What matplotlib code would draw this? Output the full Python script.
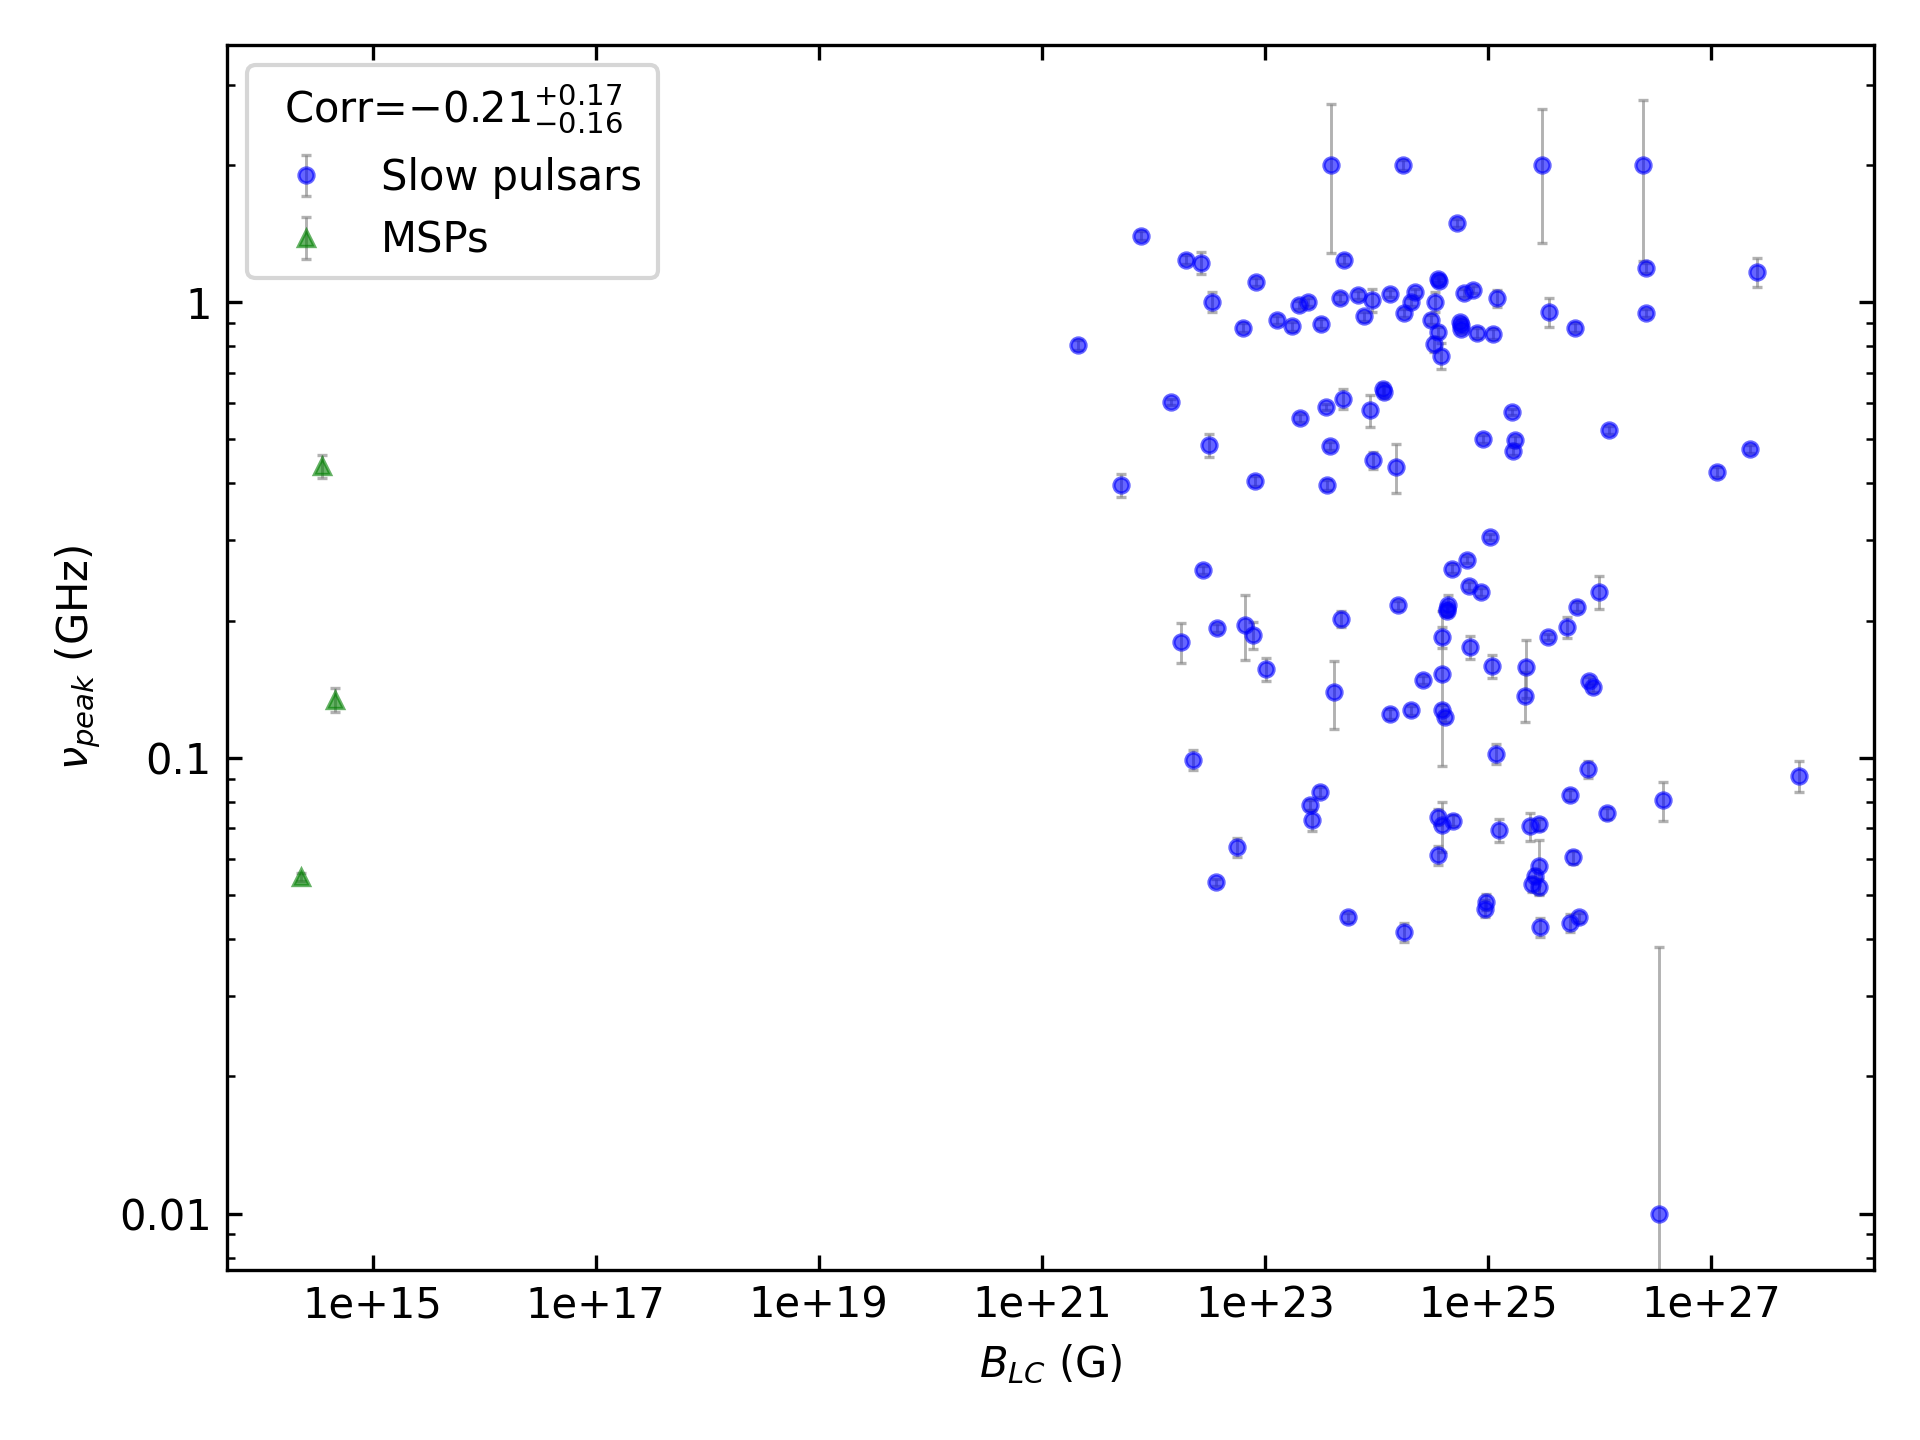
import numpy as np
import matplotlib
matplotlib.use("Agg")
import matplotlib.pyplot as plt
from matplotlib import ticker

# slow pulsars: B_LC (G), peak frequency (GHz), error (GHz)
slow_b = [3.9e23, 1.73e24, 3.05e25, 2.45e26, 5.3e24, 7.8e21, 1.97e22, 2.66e22, 5.15e23, 2.63e26,
          2.6e27, 8.27e22, 3.56e24, 3.65e24, 3.35e22, 2.04e23, 2.43e23, 4.67e23, 6.8e23, 9.15e23,
          1.32e24, 2.21e24, 2.02e24, 3.37e24, 6.15e24, 7.3e24, 1.2e25, 3.5e25, 2.63e26, 6.0e25,
          7.7e23, 1.78e24, 3.08e24, 1.27e23, 5.58e24, 6.3e22, 1.75e23, 3.2e23, 2.1e21, 3.56e24,
          5.67e24, 5.77e24, 7.9e24, 1.1e25, 3.27e24, 3.75e24, 1.45e22, 1.14e24, 1.16e24, 4.96e23,
          3.5e23, 8.66e23, 2.07e23, 1.64e25, 3.15e22, 3.8e23, 8.95e24, 1.76e25, 1.66e25, 1.22e26,
          9.34e23, 1.5e24, 2.23e27, 1.12e27, 5.1e21, 8.08e22, 3.6e23, 2.76e22, 1.05e25, 6.45e24,
          4.71e24, 6.73e24, 8.66e24, 9.8e25, 6.27e25, 1.56e24, 4.42e24, 4.33e24, 4.33e24, 3.85e24,
          3.85e24, 1.75e22, 3.74e22, 6.6e22, 7.78e22, 1.02e23, 4.77e23, 4.18e23, 2.6e24, 6.83e24,
          1.08e25, 2.19e25, 2.15e25, 3.42e25, 5.13e25, 8.08e25, 8.74e25, 1.31e24, 2.02e24, 3.85e24,
          4.14e24, 2.27e22, 1.17e25, 7.9e25, 6.1e27, 3.11e23, 2.53e23, 2.63e23, 5.4e25, 1.16e26,
          3.67e26, 3.56e24, 3.85e24, 4.9e24, 1.25e25, 2.38e25, 2.85e25, 3.56e24, 5.8e25, 5.6e22,
          3.64e22, 2.85e25, 2.66e25, 2.47e25, 2.85e25, 9.5e24, 9.4e24, 5.55e23, 1.76e24, 2.95e25,
          5.4e25, 6.55e25, 3.38e26]
slow_nu = [2.0, 2.0, 2.0, 2.0, 1.49, 1.40, 1.24, 1.22, 1.24, 1.19,
           1.165, 1.107, 1.126, 1.11, 1.0, 0.986, 1.0, 1.02, 1.037, 1.01,
           1.044, 1.05, 1.0, 1.0, 1.048, 1.065, 1.02, 0.953, 0.947, 0.878,
           0.93, 0.947, 0.915, 0.914, 0.905, 0.878, 0.885, 0.897, 0.805, 0.86,
           0.892, 0.874, 0.856, 0.851, 0.808, 0.763, 0.604, 0.645, 0.635, 0.614,
           0.589, 0.58, 0.557, 0.574, 0.486, 0.484, 0.502, 0.499, 0.471, 0.524,
           0.45, 0.435, 0.476, 0.424, 0.397, 0.405, 0.397, 0.258, 0.305, 0.272,
           0.260, 0.238, 0.231, 0.231, 0.2145, 0.216, 0.217, 0.212, 0.21, 0.184,
           0.153, 0.1795, 0.193, 0.196, 0.186, 0.1566, 0.2016, 0.1394, 0.148, 0.175,
           0.159, 0.158, 0.137, 0.184, 0.1935, 0.1476, 0.1427, 0.1247, 0.1272, 0.1274,
           0.123, 0.0989, 0.102, 0.0945, 0.0912, 0.0841, 0.0788, 0.073, 0.083, 0.0756,
           0.0807, 0.0742, 0.0712, 0.0728, 0.0695, 0.0708, 0.0715, 0.0612, 0.0605, 0.0637,
           0.0533, 0.058, 0.0551, 0.0529, 0.0522, 0.0483, 0.0467, 0.0447, 0.0414, 0.0425,
           0.0434, 0.0447, 0.01]
slow_err = [0.72, 0.05, 0.65, 0.77, 0.03, 0.03, 0.03, 0.07, 0.03, 0.03,
            0.087, 0.02, 0.02, 0.02, 0.05, 0.02, 0.02, 0.02, 0.02, 0.06,
            0.02, 0.02, 0.02, 0.05, 0.02, 0.02, 0.045, 0.07, 0.02, 0.02,
            0.02, 0.02, 0.02, 0.02, 0.02, 0.02, 0.02, 0.02, 0.02, 0.02,
            0.02, 0.02, 0.02, 0.02, 0.03, 0.05, 0.01, 0.02, 0.02, 0.03,
            0.01, 0.047, 0.01, 0.01, 0.028, 0.01, 0.01, 0.01, 0.01, 0.01,
            0.02, 0.053, 0.01, 0.01, 0.023, 0.01, 0.01, 0.005, 0.005, 0.005,
            0.006, 0.005, 0.005, 0.019, 0.005, 0.005, 0.011, 0.005, 0.005, 0.01,
            0.057, 0.018, 0.004, 0.032, 0.013, 0.009, 0.008, 0.024, 0.003, 0.01,
            0.009, 0.023, 0.017, 0.003, 0.01, 0.003, 0.003, 0.003, 0.003, 0.003,
            0.003, 0.005, 0.005, 0.004, 0.007, 0.002, 0.002, 0.004, 0.002, 0.002,
            0.008, 0.003, 0.009, 0.002, 0.004, 0.005, 0.002, 0.003, 0.002, 0.003,
            0.001, 0.008, 0.002, 0.002, 0.002, 0.002, 0.002, 0.001, 0.002, 0.002,
            0.002, 0.001, 0.0284]

# millisecond pulsars
msp_b = [3.5e14, 4.6e14, 2.3e14]
msp_nu = [0.436, 0.134, 0.0548]
msp_err = [0.025, 0.008, 0.001]

x_ticks = [1e15, 1e17, 1e19, 1e21, 1e23, 1e25, 1e27]

fig = plt.figure(figsize=(6.4, 4.8), dpi=300)
ax = fig.add_subplot(111)
fig.subplots_adjust(left=0.118, right=0.976, bottom=0.118, top=0.969)

ax.errorbar(slow_b, slow_nu, yerr=slow_err, fmt="o", color="blue", ecolor="gray",
            markersize=3.6, markeredgewidth=0.8, elinewidth=0.7, capsize=1.3,
            alpha=0.6, label="Slow pulsars")
ax.errorbar(msp_b, msp_nu, yerr=msp_err, fmt="^", color="green", ecolor="gray",
            markersize=3.8, markeredgewidth=0.8, elinewidth=0.7, capsize=1.3,
            alpha=0.6, label="MSPs")

ax.set_xscale("log")
ax.set_yscale("log")
ax.set_xlim(10**13.69, 10**28.46)
ax.set_ylim(10**-2.124, 10**0.565)

ax.xaxis.set_major_locator(ticker.FixedLocator(x_ticks))
ax.xaxis.set_minor_locator(ticker.NullLocator())
ax.xaxis.set_major_formatter(ticker.FormatStrFormatter("%g"))
ax.yaxis.set_major_formatter(ticker.FormatStrFormatter("%g"))
ax.yaxis.set_minor_formatter(ticker.NullFormatter())
ax.tick_params(which="both", direction="in", top=True, right=True)

ax.set_xlabel(r"$B_{LC}$ (G)")
ax.set_ylabel(r"$\nu_{peak}$ (GHz)")
ax.legend(title=r"Corr=$-0.21^{+0.17}_{-0.16}$", loc="upper left")

fig.savefig("out.png", dpi=300)
